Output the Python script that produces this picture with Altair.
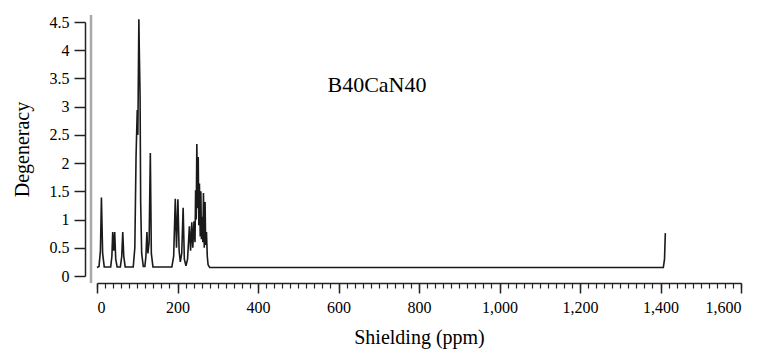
import altair as alt
import pandas as pd

shield = [0, 5, 8.5, 11, 14, 18,
          34, 37, 39, 41.5, 44, 46.5, 50,
          58, 61.5, 64, 66.5, 70,
          90, 94, 97, 100, 101.5, 104, 105.5, 107, 108.5, 111, 115,
          119, 121.5, 124, 126.5, 129.5, 132.5, 135, 139,
          186, 190.5, 194.5, 197.5, 201, 204, 207, 210.5, 214, 217, 221,
          225, 229.5, 232.5, 235.5, 238, 241, 243.5, 245, 246.5, 248, 250, 251.5, 253,
          254.5, 256.5, 258, 259.5, 261.5, 263, 264.5, 266.5, 268.5, 270, 272, 274, 276, 280,
          1407, 1410, 1412]
degeneracy = [0.15, 0.17, 0.45, 1.39, 0.4, 0.16,
              0.16, 0.35, 0.78, 0.45, 0.78, 0.3, 0.16,
              0.16, 0.35, 0.78, 0.35, 0.16,
              0.16, 0.5, 2.11, 2.94, 2.5, 4.55, 3.83, 3.19, 1.3, 0.4, 0.17,
              0.17, 0.35, 0.78, 0.4, 0.6, 2.18, 0.4, 0.16,
              0.16, 0.35, 1.37, 0.5, 1.36, 0.45, 0.25, 0.4, 1.21, 0.3, 0.18,
              0.3, 0.88, 0.45, 0.95, 0.5, 0.97, 0.6, 1.52, 1.0, 2.34, 1.2, 2.11, 0.9,
              1.64, 0.7, 1.5, 0.65, 1.05, 0.6, 1.47, 0.5, 1.31, 0.55, 0.78, 0.35, 0.2, 0.15,
              0.15, 0.3, 0.76]

x_major = [0, 200, 400, 600, 800, 1000, 1200, 1400, 1600]
x_minor = list(range(0, 1601, 20))
y_ticks = [0, 0.5, 1, 1.5, 2, 2.5, 3, 3.5, 4, 4.5]
label_text = ["B40CaN40"]

df = pd.DataFrame({"shield": shield, "deg": degeneracy})
one = pd.DataFrame({"t": label_text})

FONT = "Liberation Serif"
AX = "#222222"

xscale = alt.Scale(domain=[0, 1600], nice=False)
yscale = alt.Scale(domain=[0, 4.5], nice=False)

line = alt.Chart(df).mark_line(color="#1a1a1a", strokeWidth=1.6).encode(
    x=alt.X("shield:Q", scale=xscale,
            axis=alt.Axis(values=x_major, labelExpr="format(datum.value, ',')",
                          title="Shielding (ppm)",
                          orient="bottom", offset=7, tickSize=10, grid=False,
                          domainColor=AX, tickColor=AX, domainWidth=1.5, tickWidth=1.5,
                          labelFont=FONT, labelFontSize=16, labelColor="#000",
                          labelPadding=6, titleFont=FONT, titleFontSize=20,
                          titleFontWeight="normal", titleColor="#000", titlePadding=12)),
    y=alt.Y("deg:Q", scale=yscale,
            axis=alt.Axis(values=y_ticks, labelExpr="format(datum.value, '~g')",
                          title="Degeneracy", orient="left",
                          offset=12, tickSize=11, grid=False,
                          domainColor=AX, tickColor=AX, domainWidth=1.5, tickWidth=1.5,
                          labelFont=FONT, labelFontSize=16, labelColor="#000",
                          labelPadding=5, titleFont=FONT, titleFontSize=20,
                          titleFontWeight="normal", titleColor="#000", titlePadding=17)),
)

minor = alt.Chart(df).mark_line(opacity=0).encode(
    x=alt.X("shield:Q", scale=xscale,
            axis=alt.Axis(values=x_minor, labels=False, title="", orient="bottom",
                          offset=7, tickSize=5, grid=False, domain=False,
                          tickColor=AX, tickWidth=1.2)),
    y=alt.Y("deg:Q", scale=yscale, axis=None),
)

frame = alt.Chart(one).mark_rule(color="#a8a8a8", strokeWidth=2.5).encode(
    x=alt.value(-6), y=alt.value(-7), y2=alt.value(261)
)

title = alt.Chart(one).mark_text(font=FONT, fontSize=22, color="#000").encode(
    x=alt.value(280), y=alt.value(63), text="t:N"
)

chart = alt.layer(line, minor, frame, title).resolve_axis(
    x="independent", y="independent"
).properties(
    width=644, height=254,
    background="white",
    autosize=alt.AutoSizeParams(type="none"),
    padding={"left": 97, "top": 22, "right": 20, "bottom": 74},
).configure_view(strokeWidth=0, strokeOpacity=0).configure_axis(
    labelFont=FONT, titleFont=FONT
)

chart.save("out.html", embed_options={"renderer": "svg", "actions": False})
